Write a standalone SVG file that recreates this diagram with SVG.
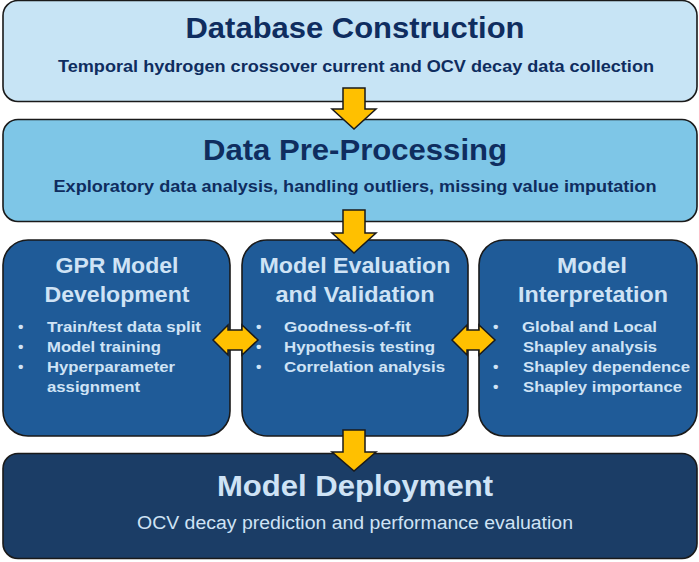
<svg xmlns="http://www.w3.org/2000/svg" width="699" height="562" viewBox="0 0 699 562">
<style>
.box{stroke:#1a1a1a;stroke-width:1.6}
.arrow{fill:#ffc000;stroke:#1a1a1a;stroke-width:1.5;stroke-linejoin:miter}
text{font-family:"Liberation Sans",Arial,sans-serif;font-weight:bold}
.dk{fill:#0f2d5f}
.lt{fill:#cfe3f5}
.h1{font-size:30px}
.sub{font-size:16.5px}
.h2{font-size:21.5px}
.li{font-size:15.5px}
.c{text-anchor:middle}
</style>
<rect width="699" height="562" fill="#ffffff"/>
<g id="database-construction">
<rect class="box" x="3" y="0.5" width="694" height="101" rx="15" fill="#c7e4f5"/>
<text class="dk h1 c" x="355" y="38" textLength="339" lengthAdjust="spacingAndGlyphs">Database Construction</text>
<text class="dk sub c" x="356" y="72" textLength="596" lengthAdjust="spacingAndGlyphs">Temporal hydrogen crossover current and OCV decay data collection</text>
</g>
<g id="data-preprocessing">
<rect class="box" x="3" y="119.5" width="694" height="102" rx="15" fill="#7ec6e7"/>
<text class="dk h1 c" x="355" y="160" textLength="304" lengthAdjust="spacingAndGlyphs">Data Pre-Processing</text>
<text class="dk sub c" x="355" y="192" textLength="603" lengthAdjust="spacingAndGlyphs">Exploratory data analysis, handling outliers, missing value imputation</text>
</g>
<g id="gpr-model-development">
<rect class="box" x="3" y="240" width="227" height="196" rx="25" fill="#1f5b98"/>
<text class="lt h2 c" x="117" y="273" textLength="123" lengthAdjust="spacingAndGlyphs">GPR Model</text>
<text class="lt h2 c" x="117" y="302" textLength="145" lengthAdjust="spacingAndGlyphs">Development</text>
<g class="lt li">
<text x="18" y="332">•</text><text x="47" y="332" textLength="154" lengthAdjust="spacingAndGlyphs">Train/test data split</text>
<text x="18" y="352">•</text><text x="47" y="352" textLength="114" lengthAdjust="spacingAndGlyphs">Model training</text>
<text x="18" y="372">•</text><text x="47" y="372" textLength="128" lengthAdjust="spacingAndGlyphs">Hyperparameter</text>
<text x="47" y="392" textLength="93" lengthAdjust="spacingAndGlyphs">assignment</text>
</g>
</g>
<g id="model-evaluation-validation">
<rect class="box" x="242" y="240" width="226" height="196" rx="25" fill="#1f5b98"/>
<text class="lt h2 c" x="355" y="273" textLength="191" lengthAdjust="spacingAndGlyphs">Model Evaluation</text>
<text class="lt h2 c" x="355" y="302" textLength="159" lengthAdjust="spacingAndGlyphs">and Validation</text>
<g class="lt li">
<text x="256" y="332">•</text><text x="284" y="332" textLength="127" lengthAdjust="spacingAndGlyphs">Goodness-of-fit</text>
<text x="256" y="352">•</text><text x="284" y="352" textLength="151" lengthAdjust="spacingAndGlyphs">Hypothesis testing</text>
<text x="256" y="372">•</text><text x="284" y="372" textLength="161" lengthAdjust="spacingAndGlyphs">Correlation analysis</text>
</g>
</g>
<g id="model-interpretation">
<rect class="box" x="479" y="240" width="218" height="196" rx="25" fill="#1f5b98"/>
<text class="lt h2 c" x="592" y="273" textLength="70" lengthAdjust="spacingAndGlyphs">Model</text>
<text class="lt h2 c" x="593" y="302" textLength="150" lengthAdjust="spacingAndGlyphs">Interpretation</text>
<g class="lt li">
<text x="493" y="332">•</text><text x="522" y="332" textLength="135" lengthAdjust="spacingAndGlyphs">Global and Local</text>
<text x="523" y="352" textLength="134" lengthAdjust="spacingAndGlyphs">Shapley analysis</text>
<text x="493" y="372">•</text><text x="523" y="372" textLength="167" lengthAdjust="spacingAndGlyphs">Shapley dependence</text>
<text x="493" y="392">•</text><text x="523" y="392" textLength="159" lengthAdjust="spacingAndGlyphs">Shapley importance</text>
</g>
</g>
<g id="model-deployment">
<rect class="box" x="3" y="453.5" width="694" height="105" rx="15" fill="#1b3d66"/>
<text class="lt c" x="355" y="496" style="font-size:30px" textLength="276" lengthAdjust="spacingAndGlyphs">Model Deployment</text>
<text class="lt c" x="355" y="529" style="font-size:18px;font-weight:normal" textLength="436" lengthAdjust="spacingAndGlyphs">OCV decay prediction and performance evaluation</text>
</g>
<g id="connectors">
<path class="arrow" d="M343,88 H365 V109 H376 L354,129 L332,109 H343 Z"/>
<path class="arrow" d="M343,210 H365 V233 H376 L354,253 L332,233 H343 Z"/>
<path class="arrow" d="M343,430 H365 V452 H376 L354,471 L332,452 H343 Z"/>
<path class="arrow" d="M213,340 L228,325 V330 H242 V325 L258,340 L242,355 V350 H228 V355 Z"/>
<path class="arrow" d="M452,340 L467,325 V330 H479 V325 L495,340 L479,355 V350 H467 V355 Z"/>
</g>
</svg>
